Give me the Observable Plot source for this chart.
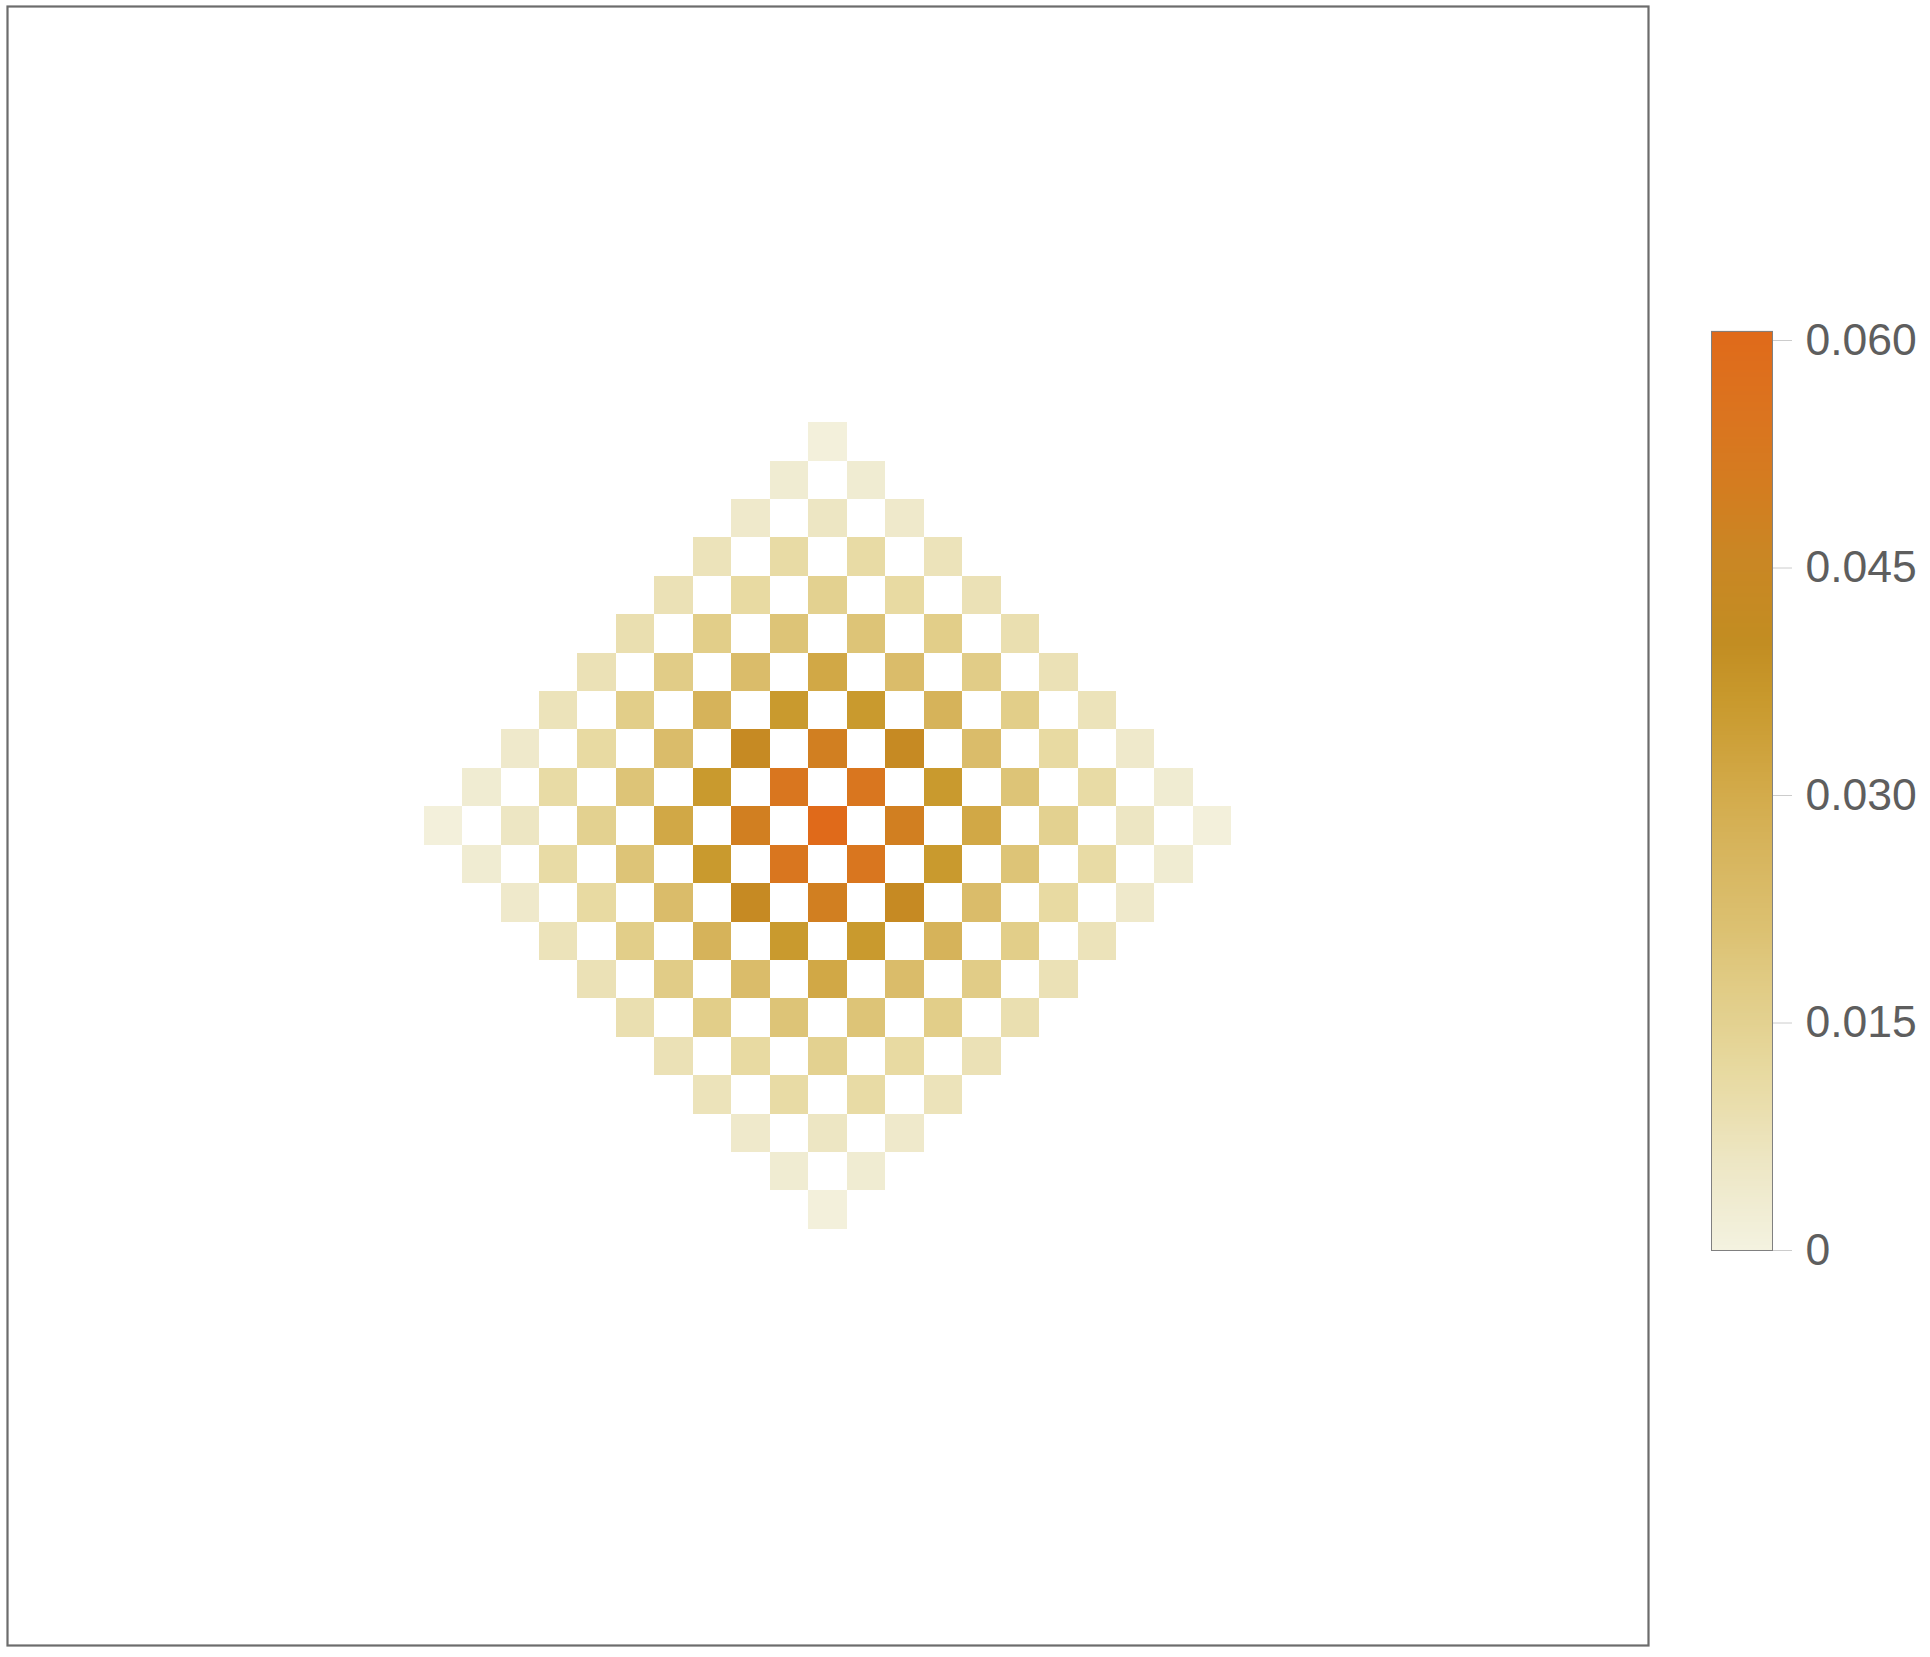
<!DOCTYPE html>
<html>
<head>
<meta charset="utf-8">
<script src="https://cdn.jsdelivr.net/npm/d3@7"></script>
<script src="https://cdn.jsdelivr.net/npm/@observablehq/plot@0.6"></script>
<style>
  html, body { margin: 0; padding: 0; background: #ffffff; }
  #wrap { position: relative; width: 1930px; height: 1657px; font-family: "Liberation Sans", Arial, sans-serif; }
  #main { position: absolute; left: 0; top: 0; }
  #bar { position: absolute; left: 1690px; top: 300px; }
  svg { overflow: visible; }
</style>
</head>
<body>
<div id="wrap"><div id="main"></div><div id="bar"></div></div>
<script>
// Column / row coordinates of the array cells (centre cell = 0)
const cols = [-10,-9,-8,-7,-6,-5,-4,-3,-2,-1,0,1,2,3,4,5,6,7,8,9,10];
const rowsY = [10,9,8,7,6,5,4,3,2,1,0,-1,-2,-3,-4,-5,-6,-7,-8,-9,-10];

// Cell values (0 = empty / white)
const grid = [
  [0,0,0,0,0,0,0,0,0,0,.001,0,0,0,0,0,0,0,0,0,0],
  [0,0,0,0,0,0,0,0,0,.003,0,.003,0,0,0,0,0,0,0,0,0],
  [0,0,0,0,0,0,0,0,.0045,0,.006,0,.0045,0,0,0,0,0,0,0,0],
  [0,0,0,0,0,0,0,.0075,0,.011,0,.011,0,.0075,0,0,0,0,0,0,0],
  [0,0,0,0,0,0,.008,0,.0115,0,.015,0,.0115,0,.008,0,0,0,0,0,0],
  [0,0,0,0,0,.009,0,.0165,0,.020,0,.020,0,.0165,0,.009,0,0,0,0,0],
  [0,0,0,0,.008,0,.017,0,.023,0,.031,0,.023,0,.017,0,.008,0,0,0,0],
  [0,0,0,.0075,0,.0165,0,.027,0,.036,0,.036,0,.027,0,.0165,0,.0075,0,0,0],
  [0,0,.0045,0,.0115,0,.023,0,.043,0,.049,0,.043,0,.023,0,.0115,0,.0045,0,0],
  [0,.003,0,.011,0,.020,0,.036,0,.054,0,.054,0,.036,0,.020,0,.011,0,.003,0],
  [.001,0,.006,0,.015,0,.031,0,.049,0,.0606,0,.049,0,.031,0,.015,0,.006,0,.001],
  [0,.003,0,.011,0,.020,0,.036,0,.054,0,.054,0,.036,0,.020,0,.011,0,.003,0],
  [0,0,.0045,0,.0115,0,.023,0,.043,0,.049,0,.043,0,.023,0,.0115,0,.0045,0,0],
  [0,0,0,.0075,0,.0165,0,.027,0,.036,0,.036,0,.027,0,.0165,0,.0075,0,0,0],
  [0,0,0,0,.008,0,.017,0,.023,0,.031,0,.023,0,.017,0,.008,0,0,0,0],
  [0,0,0,0,0,.009,0,.0165,0,.020,0,.020,0,.0165,0,.009,0,0,0,0,0],
  [0,0,0,0,0,0,.008,0,.0115,0,.015,0,.0115,0,.008,0,0,0,0,0,0],
  [0,0,0,0,0,0,0,.0075,0,.011,0,.011,0,.0075,0,0,0,0,0,0,0],
  [0,0,0,0,0,0,0,0,.0045,0,.006,0,.0045,0,0,0,0,0,0,0,0],
  [0,0,0,0,0,0,0,0,0,.003,0,.003,0,0,0,0,0,0,0,0,0],
  [0,0,0,0,0,0,0,0,0,0,.001,0,0,0,0,0,0,0,0,0,0]
];

// Colour legend stops
const legendValues = [0, .003, .006, .009, .012, .015, .018, .021, .024, .027, .030, .033, .036, .040, .046, .050, .055, .0606];
const legendColors = ["#f4f2e0","#f0ecd2","#ede6c3","#eadfb0","#e7d99f","#e3d190","#e0ca82","#dcc172","#d9ba66","#d6b35a","#d3ab4b","#cea23c","#c99a2e","#c28d22","#ca8624","#d37d20","#db741f","#e06a1a"];

// Colour bar ticks
const tickValues = [0, 0.015, 0.030, 0.045, 0.060];
const tickLabels = ["0", "0.015", "0.030", "0.045", "0.060"];

const vMax = 0.0606;
const halfRange = 21.33; // 41 cells + 2% padding each side

const cells = [];
grid.forEach((row, r) => row.forEach((v, c) => {
  cells.push({x: cols[c], y: rowsY[r], value: v});
}));

const colorScale = {type: "linear", domain: legendValues, range: legendColors, interpolate: "rgb"};

const main = Plot.plot({
  width: 1655,
  height: 1652,
  marginLeft: 7,
  marginRight: 7,
  marginTop: 6,
  marginBottom: 7,
  x: {domain: [-halfRange, halfRange], axis: null},
  y: {domain: [-halfRange, halfRange], axis: null},
  color: colorScale,
  style: {background: "#ffffff", fontFamily: "Liberation Sans, Arial, sans-serif"},
  marks: [
    Plot.rect(cells.filter(d => d.value > 0), {
      x1: d => d.x - 0.5, x2: d => d.x + 0.5,
      y1: d => d.y - 0.5, y2: d => d.y + 0.5,
      fill: "value",
      shapeRendering: "crispEdges"
    }),
    Plot.frame({stroke: "#6c6c6c", strokeWidth: 2.2})
  ]
});
document.getElementById("main").appendChild(main);

// colour ramp for the bar (samples of the colour scale)
const nRamp = 400;
const rampStep = vMax / nRamp;
const ramp = d3.range(nRamp).map(i => i * rampStep);

const bar = Plot.plot({
  width: 240,
  height: 980,
  marginLeft: 21,
  marginRight: 158,
  marginTop: 30.9,
  marginBottom: 30,
  x: {domain: [0, 1], axis: null},
  y: {domain: [0, vMax], axis: null},
  color: colorScale,
  style: {background: "transparent", fontFamily: "Liberation Sans, Arial, sans-serif"},
  marks: [
    Plot.rect(ramp, {
      x1: 0, x2: 1,
      y1: d => d, y2: d => Math.min(vMax, d + rampStep * 1.5),
      fill: d => d + rampStep / 2,
      shapeRendering: "crispEdges"
    }),
    Plot.frame({stroke: "#808080", strokeWidth: 1}),
    Plot.axisY(tickValues, {
      anchor: "right",
      tickSize: 19,
      tickPadding: 14,
      tickFormat: d => tickLabels[tickValues.indexOf(d)],
      fontSize: 44.5,
      fill: "#5e5e5e",
      stroke: "#cccccc",
      label: null
    })
  ]
});
document.getElementById("bar").appendChild(bar);
</script>
</body>
</html>
